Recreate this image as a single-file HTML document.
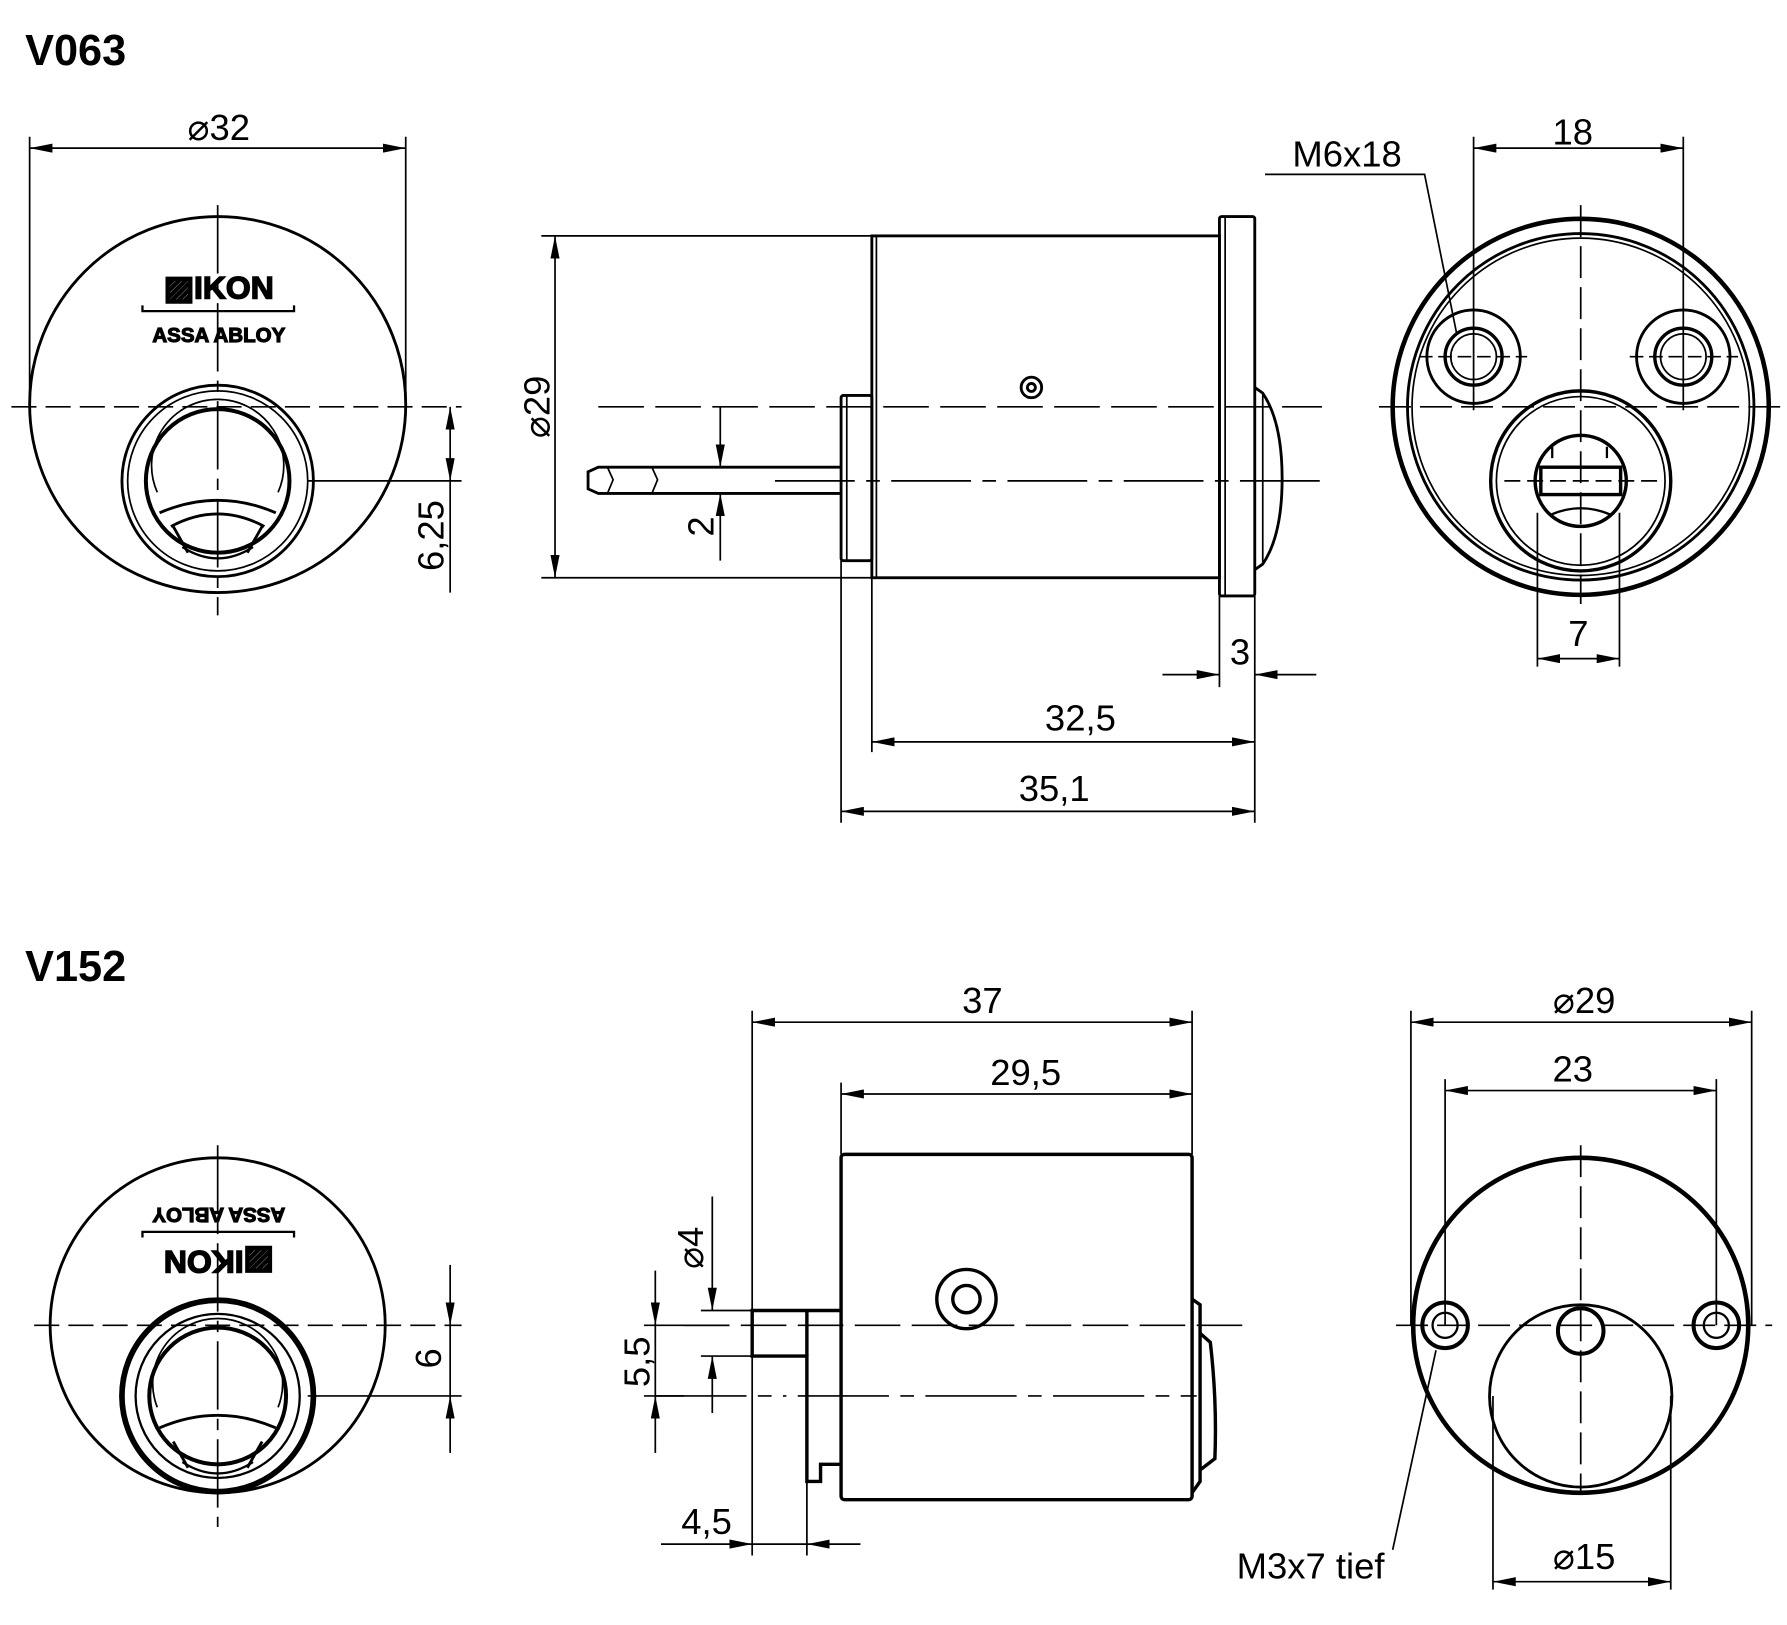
<!DOCTYPE html>
<html><head><meta charset="utf-8"><style>
html,body{margin:0;padding:0;background:#fff;}
svg{display:block;}
text{font-family:"Liberation Sans",Arial,sans-serif;fill:#000;}
</style></head><body>
<svg width="1787" height="1625" viewBox="0 0 1568 1426" preserveAspectRatio="none" xmlns="http://www.w3.org/2000/svg">
<defs>
<marker id="a" viewBox="0 0 20 8" refX="20" refY="4" markerWidth="20" markerHeight="8" markerUnits="userSpaceOnUse" orient="auto-start-reverse"><path d="M0,0 L20,4 L0,8 z" fill="#000"/></marker>
</defs>
<g fill="none" stroke="#000">
<!-- ===== V063 front ===== -->
<g stroke-width="2.5">
<circle cx="191" cy="355" r="165"/>
<circle cx="191" cy="422" r="84"/>
<circle cx="191" cy="422" r="79" stroke-width="1.5"/>
<circle cx="191" cy="422" r="63" stroke-width="3.5"/>
<path d="M138,432 A58,58 0 1 1 244,432" stroke-width="1.5"/>
<path d="M140,450 Q191,428 242,450"/>
<path d="M150,462 Q191,440 232,462"/>
<path d="M152,462 L165,485 M230,462 L217,485"/>
<path d="M160,480 Q191,500 222,480" stroke-width="2"/>
</g>
<path d="M125,268 v5 h133 v-5" stroke-width="2"/>
<g stroke-width="1.5">
<path d="M10,357 H405" stroke-dasharray="22,8"/>
<path d="M191,180 V540" stroke-dasharray="60,8,10,8"/>
<path d="M270,422 H405"/>
<path d="M26,120 V355 M356,120 V355"/>
<path d="M26,130 H356" marker-start="url(#a)" marker-end="url(#a)"/>
<path d="M395,357 V422" marker-start="url(#a)" marker-end="url(#a)"/>
<path d="M395,422 V520"/>
</g>

<!-- ===== V063 side ===== -->
<g stroke-width="2.5">
<rect x="765" y="207" width="305" height="300"/>
<path d="M769,207 V507" stroke-width="1.5"/>
<rect x="1070" y="190" width="31" height="333" rx="2"/>
<path d="M1075,190 V523" stroke-width="1.5"/>
<rect x="738" y="347" width="27" height="145" rx="2"/>
<path d="M743,347 V492" stroke-width="1.5"/>
<path d="M738,410 H525 L516,414 V429 L525,433 H738"/>
<path d="M533,410 l5,11 l-5,12 M572,410 l5,11 l-5,12" stroke-width="1.5"/>
<path d="M1101,340 L1108,345 Q1125,370 1125,420 Q1125,470 1108,495 L1101,500"/>
<path d="M1108,345 V495" stroke-width="1.5"/>
<circle cx="905" cy="340" r="9"/>
<circle cx="905" cy="340" r="3.5"/>
</g>
<g stroke-width="1.5">
<path d="M525,357 H1160" stroke-dasharray="40,10"/>
<path d="M680,422 H1160" stroke-dasharray="70,10,12,10"/>
<path d="M475,207 H765 M475,507 H765"/>
<path d="M487,207 V507" marker-start="url(#a)" marker-end="url(#a)"/>
<path d="M632,357 V410" marker-end="url(#a)"/>
<path d="M632,492 V433" marker-end="url(#a)"/>
<path d="M1020,592 H1070" marker-end="url(#a)"/>
<path d="M1155,592 H1101" marker-end="url(#a)"/>
<path d="M1070,523 V603 M1101,523 V722 M765,507 V660 M738,492 V722"/>
<path d="M765,651 H1101" marker-start="url(#a)" marker-end="url(#a)"/>
<path d="M738,712 H1101" marker-start="url(#a)" marker-end="url(#a)"/>
</g>

<!-- ===== V063 back ===== -->
<g>
<circle cx="1387" cy="357" r="165" stroke-width="4"/>
<circle cx="1387" cy="357" r="152" stroke-width="2.5"/>
<circle cx="1387" cy="357" r="148" stroke-width="1.5"/>
<circle cx="1293" cy="313" r="41" stroke-width="2.5"/>
<circle cx="1293" cy="313" r="25" stroke-width="3"/>
<circle cx="1293" cy="313" r="20" stroke-width="1.5"/>
<circle cx="1477" cy="313" r="41" stroke-width="2.5"/>
<circle cx="1477" cy="313" r="25" stroke-width="3"/>
<circle cx="1477" cy="313" r="20" stroke-width="1.5"/>
<circle cx="1387" cy="422" r="79" stroke-width="3"/>
<circle cx="1387" cy="422" r="74" stroke-width="1.5"/>
<circle cx="1387" cy="422" r="40" stroke-width="3"/>
<rect x="1352" y="410" width="70" height="24" stroke-width="3"/>
<path d="M1362,392 V402 M1410,392 V402 M1360,452 Q1387,440 1414,452" stroke-width="2"/>
</g>
<g stroke-width="1.5">
<path d="M1210,357 H1565" stroke-dasharray="28,8"/>
<path d="M1387,180 V530" stroke-dasharray="28,8"/>
<path d="M1245,313 H1340 M1430,313 H1525" stroke-dasharray="12,5"/>
<path d="M1320,422 H1455" stroke-dasharray="14,6"/>
<path d="M1293,120 V360 M1477,120 V360"/>
<path d="M1293,130 H1477" marker-start="url(#a)" marker-end="url(#a)"/>
<path d="M1110,153 H1250 L1278,292"/>
<path d="M1349,450 V585 M1421,450 V585"/>
<path d="M1349,578 H1421" marker-start="url(#a)" marker-end="url(#a)"/>
</g>

<!-- ===== V152 front ===== -->
<g stroke-width="2.5">
<circle cx="191" cy="1163" r="147"/>
<circle cx="191" cy="1225" r="84" stroke-width="5"/>
<circle cx="191" cy="1225" r="72" stroke-width="2"/>
<circle cx="191" cy="1225" r="60" stroke-width="3.5"/>
<path d="M138,1235 A57,57 0 1 1 244,1235" stroke-width="1.5"/>
<path d="M140,1253 Q191,1231 242,1253"/>
<path d="M152,1265 L165,1288 M230,1265 L217,1288"/>
<path d="M160,1283 Q191,1303 222,1283" stroke-width="2"/>
</g>
<path d="M125,1086 v-5 h133 v5" stroke-width="2"/>
<g stroke-width="1.5">
<path d="M30,1163 H405" stroke-dasharray="22,8"/>
<path d="M191,1005 V1340" stroke-dasharray="60,8,10,8"/>
<path d="M270,1225 H405"/>
<path d="M395,1110 V1163" marker-end="url(#a)"/>
<path d="M395,1275 V1225" marker-end="url(#a)"/>
<path d="M395,1163 V1225"/>
</g>

<!-- ===== V152 side ===== -->
<g stroke-width="3">
<rect x="738" y="1013" width="308" height="303" rx="3"/>
<path d="M1046,1140 L1053,1145 V1300 L1046,1310"/>
<path d="M1053,1170 L1062,1178 Q1068,1230 1066,1280 L1053,1290"/>
<path d="M738,1150 H660 V1190 H708 V1300 H720 V1285 H738"/>
<path d="M708,1150 V1190"/>
<circle cx="848" cy="1140" r="26"/>
<circle cx="848" cy="1140" r="12"/>
</g>
<g stroke-width="1.5">
<path d="M600,1163 H1095" stroke-dasharray="40,10"/>
<path d="M575,1225 H690 M700,1225 H1050" stroke-dasharray="80,10,12,10"/>
<path d="M660,887 V1365 M1046,887 V1013 M738,950 V1013 M708,1300 V1365"/>
<path d="M660,897 H1046" marker-start="url(#a)" marker-end="url(#a)"/>
<path d="M738,960 H1046" marker-start="url(#a)" marker-end="url(#a)"/>
<path d="M615,1150 H660 M615,1190 H660 M565,1163 H640 M565,1225 H600"/>
<path d="M625,1050 V1150" marker-end="url(#a)"/>
<path d="M625,1240 V1190" marker-end="url(#a)"/>
<path d="M575,1115 V1163" marker-end="url(#a)"/>
<path d="M575,1275 V1225" marker-end="url(#a)"/>
<path d="M575,1163 V1225"/>
<path d="M580,1355 H660" marker-end="url(#a)"/>
<path d="M755,1355 H708" marker-end="url(#a)"/>
<path d="M660,1355 H708"/>
</g>

<!-- ===== V152 back ===== -->
<g>
<circle cx="1387" cy="1163" r="147" stroke-width="4"/>
<circle cx="1387" cy="1225" r="80" stroke-width="2.5"/>
<circle cx="1268" cy="1163" r="20" stroke-width="3.5"/>
<circle cx="1268" cy="1163" r="11" stroke-width="2"/>
<circle cx="1506" cy="1163" r="20" stroke-width="3.5"/>
<circle cx="1506" cy="1163" r="11" stroke-width="2"/>
<circle cx="1387" cy="1168" r="20" stroke-width="3.5"/>
</g>
<g stroke-width="1.5">
<path d="M1225,1163 H1555" stroke-dasharray="28,8"/>
<path d="M1387,1005 V1310" stroke-dasharray="28,8"/>
<path d="M1238,887 V1163 M1537,887 V1163 M1268,947 V1163 M1506,947 V1163 M1310,1225 V1395 M1466,1225 V1395"/>
<path d="M1238,897 H1537" marker-start="url(#a)" marker-end="url(#a)"/>
<path d="M1268,957 H1506" marker-start="url(#a)" marker-end="url(#a)"/>
<path d="M1310,1388 H1466" marker-start="url(#a)" marker-end="url(#a)"/>
<path d="M1222,1360 L1260,1185"/>
</g>
</g>

<!-- ===== Text ===== -->
<g font-size="38" font-weight="bold">
<text x="22" y="57">V063</text>
<text x="22" y="861">V152</text>
</g>
<g font-size="32">
<text x="192" y="123" text-anchor="middle">⌀32</text>
<text x="1380" y="127" text-anchor="middle">18</text>
<text x="1182" y="146" text-anchor="middle">M6x18</text>
<text x="1385" y="567" text-anchor="middle">7</text>
<text x="1088" y="583" text-anchor="middle">3</text>
<text x="948" y="641" text-anchor="middle">32,5</text>
<text x="925" y="703" text-anchor="middle">35,1</text>
<text transform="translate(482,357) rotate(-90)" text-anchor="middle">⌀29</text>
<text transform="translate(626,462) rotate(-90)" text-anchor="middle">2</text>
<text transform="translate(389,470) rotate(-90)" text-anchor="middle">6,25</text>
<text x="862" y="889" text-anchor="middle">37</text>
<text x="900" y="952" text-anchor="middle">29,5</text>
<text x="1390" y="889" text-anchor="middle">⌀29</text>
<text x="1380" y="949" text-anchor="middle">23</text>
<text x="1390" y="1377" text-anchor="middle">⌀15</text>
<text x="620" y="1346" text-anchor="middle">4,5</text>
<text x="1150" y="1385" text-anchor="middle">M3x7 tief</text>
<text transform="translate(387,1192) rotate(-90)" text-anchor="middle">6</text>
<text transform="translate(617,1095) rotate(-90)" text-anchor="middle">⌀4</text>
<text transform="translate(570,1195) rotate(-90)" text-anchor="middle">5,5</text>
</g>
<g font-size="28" font-weight="bold">
<text x="192" y="262" text-anchor="middle" fill="none" stroke="#000" stroke-width="1.3">▨IKON</text>
<text x="0" y="0" dy="10" text-anchor="middle" fill="none" stroke="#000" stroke-width="1.3" transform="translate(192,1108) rotate(180)">▨IKON</text>
</g>
<g font-size="18" font-weight="bold">
<text x="192" y="300" text-anchor="middle" fill="none" stroke="#000" stroke-width="1">ASSA ABLOY</text>
<text x="0" y="0" dy="6" text-anchor="middle" fill="none" stroke="#000" stroke-width="1" transform="translate(192,1066) rotate(180)">ASSA ABLOY</text>
</g>
</svg>
</body></html>
